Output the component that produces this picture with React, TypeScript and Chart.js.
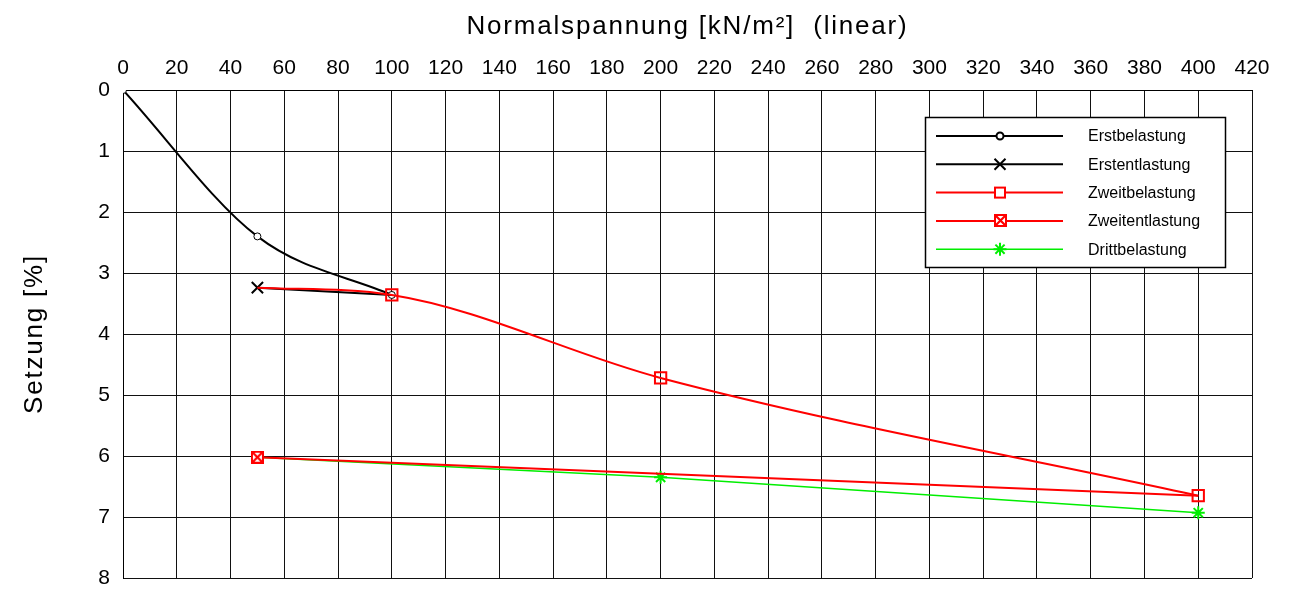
import React, { useEffect, useRef } from 'react';
import { Chart, registerables } from 'chart.js';

Chart.register(...registerables);

const FONT = '"Liberation Sans", Arial, Helvetica, sans-serif';

// Axes
const xMin = 0;
const xMax = 420;
const xStep = 20;
const yMin = 0;
const yMax = 8;
const yStep = 1;
const xTitle = 'Normalspannung [kN/m²]  (linear)';
const yTitle = 'Setzung [%]';

// Series names (legend order)
const seriesNames = ['Erstbelastung', 'Erstentlastung', 'Zweitbelastung', 'Zweitentlastung', 'Drittbelastung'];

// Series values
const erstBelX = [0, 50, 100];
const erstBelY = [0, 2.4, 3.36];

const erstEntX = [100, 50];
const erstEntY = [3.36, 3.24];

const zweitBelX = [50, 100, 200, 400];
const zweitBelY = [3.24, 3.36, 4.72, 6.65];

const zweitEntX = [400, 50];
const zweitEntY = [6.65, 6.02];

const drittBelX = [50, 200, 400];
const drittBelY = [6.02, 6.35, 6.93];

const BLACK = '#000000';
const RED = '#ff0000';
const GREEN = '#00ee00';

function pts(xs: number[], ys: number[]) {
  return xs.map((x, i) => ({ x, y: ys[i] }));
}

function makeBoxMarker(): HTMLCanvasElement {
  const c = document.createElement('canvas');
  c.width = 13;
  c.height = 13;
  const g = c.getContext('2d')!;
  g.fillStyle = '#ffffff';
  g.fillRect(0, 0, 13, 13);
  g.strokeStyle = RED;
  g.lineWidth = 2;
  g.strokeRect(1, 1, 11, 11);
  g.beginPath();
  g.moveTo(2, 2);
  g.lineTo(11, 11);
  g.moveTo(11, 2);
  g.lineTo(2, 11);
  g.lineWidth = 2.2;
  g.stroke();
  return c;
}

export default function App() {
  const ref = useRef<HTMLCanvasElement>(null);

  useEffect(() => {
    document.body.style.margin = '0';
    const canvas = ref.current!;
    const boxMarker = makeBoxMarker();

    const drawLegendMarker = (ctx: CanvasRenderingContext2D, i: number, x: number, y: number) => {
      ctx.save();
      if (i === 0) {
        ctx.beginPath();
        ctx.arc(x, y, 3.5, 0, Math.PI * 2);
        ctx.fillStyle = '#fff';
        ctx.fill();
        ctx.strokeStyle = BLACK;
        ctx.lineWidth = 2;
        ctx.stroke();
      } else if (i === 1) {
        const d = 5.5;
        ctx.beginPath();
        ctx.moveTo(x - d, y - d);
        ctx.lineTo(x + d, y + d);
        ctx.moveTo(x + d, y - d);
        ctx.lineTo(x - d, y + d);
        ctx.strokeStyle = BLACK;
        ctx.lineWidth = 2;
        ctx.stroke();
      } else if (i === 2) {
        ctx.fillStyle = '#fff';
        ctx.fillRect(x - 5, y - 5, 10, 10);
        ctx.strokeStyle = RED;
        ctx.lineWidth = 2;
        ctx.strokeRect(x - 5, y - 5, 10, 10);
      } else if (i === 3) {
        ctx.drawImage(boxMarker, Math.round(x - 6.5), Math.round(y - 6.5));
      } else {
        const r = 6.5;
        const d = r * Math.SQRT1_2;
        ctx.beginPath();
        ctx.moveTo(x, y - r);
        ctx.lineTo(x, y + r);
        ctx.moveTo(x - r, y);
        ctx.lineTo(x + r, y);
        ctx.moveTo(x - d, y - d);
        ctx.lineTo(x + d, y + d);
        ctx.moveTo(x + d, y - d);
        ctx.lineTo(x - d, y + d);
        ctx.strokeStyle = GREEN;
        ctx.lineWidth = 2;
        ctx.stroke();
      }
      ctx.restore();
    };

    const legendColors = [BLACK, BLACK, RED, RED, GREEN];
    const legendWidths = [2, 2, 2, 2, 1.5];

    const overlay = {
      id: 'overlay',
      afterDraw(chart: any) {
        const ctx: CanvasRenderingContext2D = chart.ctx;
        const a = chart.chartArea;
        // Axis titles
        ctx.save();
        ctx.fillStyle = '#000';
        ctx.font = `26px ${FONT}`;
        (ctx as any).letterSpacing = '1.8px';
        ctx.textAlign = 'center';
        ctx.textBaseline = 'alphabetic';
        ctx.fillText(xTitle, (a.left + a.right) / 2, 34);
        ctx.translate(42, (a.top + a.bottom) / 2);
        ctx.rotate(-Math.PI / 2);
        ctx.fillText(yTitle, 0, 0);
        ctx.restore();

        // Legend box
        const bw = 300;
        const bh = 150;
        const bx = a.right - 27 - bw;
        const by = a.top + 27;
        ctx.save();
        ctx.fillStyle = '#fff';
        ctx.fillRect(bx, by, bw, bh);
        ctx.strokeStyle = '#000';
        ctx.lineWidth = 1.5;
        ctx.strokeRect(bx + 0.5, by + 0.5, bw, bh);
        ctx.font = `16px ${FONT}`;
        ctx.textAlign = 'left';
        ctx.textBaseline = 'middle';
        seriesNames.forEach((name, i) => {
          const ry = by + 19 + i * 28.3;
          ctx.beginPath();
          ctx.moveTo(bx + 11, ry);
          ctx.lineTo(bx + 138, ry);
          ctx.strokeStyle = legendColors[i];
          ctx.lineWidth = legendWidths[i];
          ctx.stroke();
          drawLegendMarker(ctx, i, bx + 75, ry);
          ctx.fillStyle = '#000';
          ctx.fillText(name, bx + 163, ry + 1);
        });
        ctx.restore();
      },
    };

    const tickFont = { family: FONT, size: 21 };

    const chart = new Chart(canvas, {
      type: 'line',
      data: {
        datasets: [
          {
            label: seriesNames[2],
            data: pts(zweitBelX, zweitBelY),
            borderColor: RED,
            borderWidth: 2,
            cubicInterpolationMode: 'monotone',
            pointStyle: 'rect',
            pointRadius: [0, 8, 8, 8],
            pointBorderColor: RED,
            pointBackgroundColor: 'rgba(0,0,0,0)',
            pointBorderWidth: 2,
            order: 1,
          },
          {
            label: seriesNames[3],
            data: pts(zweitEntX, zweitEntY),
            borderColor: RED,
            borderWidth: 2,
            tension: 0,
            pointStyle: boxMarker,
            pointRadius: [0, 6.5],
            order: 0,
          },
          {
            label: seriesNames[0],
            data: pts(erstBelX, erstBelY),
            borderColor: BLACK,
            borderWidth: 2,
            cubicInterpolationMode: 'monotone',
            pointStyle: 'circle',
            pointRadius: 3.5,
            pointBorderColor: BLACK,
            pointBackgroundColor: '#ffffff',
            pointBorderWidth: 1,
            order: 3,
          },
          {
            label: seriesNames[1],
            data: pts(erstEntX, erstEntY),
            borderColor: BLACK,
            borderWidth: 2,
            tension: 0,
            pointStyle: 'crossRot',
            pointRadius: [0, 8],
            pointBorderColor: BLACK,
            pointBorderWidth: 2,
            order: 2,
          },
          {
            label: seriesNames[4],
            data: pts(drittBelX, drittBelY),
            borderColor: GREEN,
            borderWidth: 1.5,
            tension: 0,
            pointStyle: 'star',
            pointRadius: [0, 6.5, 6.5],
            pointBorderColor: GREEN,
            pointBorderWidth: 2,
            order: 4,
          },
        ] as any,
      },
      options: {
        animation: false,
        responsive: false,
        maintainAspectRatio: false,
        layout: { padding: { left: 0, top: 0, right: 38, bottom: 12 } },
        plugins: {
          legend: { display: false },
          tooltip: { enabled: false },
          title: { display: false },
        },
        scales: {
          x: {
            type: 'linear',
            position: 'top',
            min: xMin,
            max: xMax,
            ticks: {
              stepSize: xStep,
              font: tickFont,
              color: '#000',
              padding: 9,
              maxRotation: 0,
              autoSkip: false,
            },
            grid: { color: '#111', lineWidth: 1, drawTicks: false },
            border: { color: '#000', width: 1 },
            afterFit: (s: any) => {
              s.height = 90;
              s.paddingLeft = 0;
              s.paddingRight = 0;
            },
          },
          y: {
            type: 'linear',
            reverse: true,
            min: yMin,
            max: yMax,
            ticks: {
              stepSize: yStep,
              font: tickFont,
              color: '#000',
              padding: 13,
            },
            grid: { color: '#111', lineWidth: 1, drawTicks: false },
            border: { color: '#000', width: 1 },
            afterFit: (s: any) => {
              s.width = 123;
              s.paddingTop = 0;
              s.paddingBottom = 0;
            },
          },
        },
      } as any,
      plugins: [overlay],
    });

    return () => chart.destroy();
  }, []);

  return <canvas ref={ref} width={1290} height={590} style={{ display: 'block' }} />;
}
